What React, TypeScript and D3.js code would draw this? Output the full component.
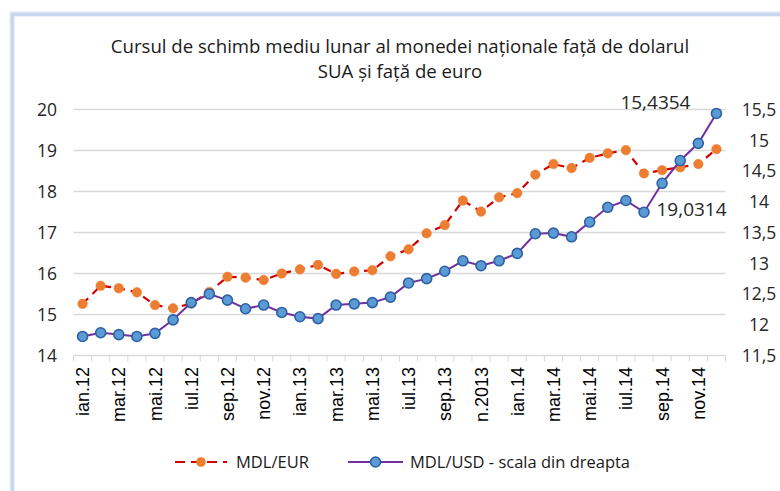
import React from "react";
import * as d3 from "d3";

const months = ["ian.12","feb.12","mar.12","apr.12","mai.12","iun.12","iul.12","aug.12","sep.12","oct.12","nov.12","dec.12","ian.13","feb.13","mar.13","apr.13","mai.13","iun.13","iul.13","aug.13","sep.13","oct.13","n.2013","dec.13","ian.14","feb.14","mar.14","apr.14","mai.14","iun.14","iul.14","aug.14","sep.14","oct.14","nov.14","dec.14"];

const eur = [15.26,15.70,15.64,15.54,15.23,15.15,15.27,15.55,15.92,15.90,15.84,16.00,16.10,16.21,15.99,16.05,16.08,16.42,16.59,16.98,17.18,17.78,17.51,17.86,17.96,18.41,18.67,18.57,18.82,18.93,19.01,18.44,18.52,18.59,18.67,19.0314];
const usd = [11.81,11.87,11.84,11.81,11.86,12.08,12.36,12.50,12.40,12.26,12.32,12.20,12.13,12.10,12.32,12.34,12.36,12.45,12.68,12.75,12.87,13.04,12.96,13.04,13.16,13.48,13.49,13.43,13.67,13.91,14.02,13.83,14.30,14.67,14.95,15.4354];

const leftTicks = [14, 15, 16, 17, 18, 19, 20];
const rightTicks = [11.5, 12, 12.5, 13, 13.5, 14, 14.5, 15, 15.5];

const titleLines = ["Cursul de schimb mediu lunar al monedei naționale față de dolarul", "SUA și față de euro"];
const legendLabels = ["MDL/EUR", "MDL/USD - scala din dreapta"];
const valueLabels = ["15,4354", "19,0314"];

const W = 780, H = 491;
const plotL = 73.5, plotR = 725.5, plotT = 109.5, plotB = 355.5;

const CAL = "'Open Sans', 'Noto Sans', sans-serif";
const ARIAL = "'Liberation Sans', Arial, sans-serif";

export default function App() {
  const x = d3.scaleBand<number>().domain(months.map((_, i) => i)).range([plotL, plotR]).padding(0);
  const bw = x.bandwidth();
  const cx = (i: number) => (x(i) as number) + bw / 2;
  const yL = d3.scaleLinear().domain([14, 20]).range([plotB, plotT]);
  const yR = d3.scaleLinear().domain([11.5, 15.5]).range([plotB, plotT]);

  const lineE = d3.line<number>().x((_, i) => cx(i)).y((d) => yL(d));
  const lineU = d3.line<number>().x((_, i) => cx(i)).y((d) => yR(d));

  const fmt = (v: number) => String(v).replace(".", ",");
  const tickXs = d3.range(months.length + 1).map((k) => plotL + k * bw);

  const last = usd.length - 1;

  return (
    <svg width={W} height={H} style={{ position: "absolute", left: 0, top: 0, background: "#fff" }}>
      <rect x={0} y={0} width={W} height={H} fill="#fff" />
      {/* frame */}
      <rect x={12} y={14} width={W + 20} height={H + 20} fill="none" stroke="#dbe6f3" strokeWidth={5} />
      <rect x={12.5} y={14.5} width={W + 20} height={H + 20} fill="none" stroke="#c3d6ee" strokeWidth={2.5} />

      {/* title */}
      {titleLines.map((t, i) => (
        <text key={i} x={400} y={53 + i * 25} textAnchor="middle" fontFamily={CAL} fontSize={18.6} fill="#1a1a1a">{t}</text>
      ))}

      {/* gridlines */}
      {leftTicks.map((t) => (
        <line key={t} x1={plotL} x2={plotR} y1={yL(t)} y2={yL(t)} stroke="#d9d9d9" strokeWidth={1.3} />
      ))}
      {/* x ticks */}
      {tickXs.map((tx, k) => (
        <line key={k} x1={tx} x2={tx} y1={plotB} y2={plotB + 6} stroke="#d9d9d9" strokeWidth={1} />
      ))}

      {/* left axis labels */}
      {leftTicks.map((t) => (
        <text key={t} x={57} y={yL(t)} dy="0.36em" textAnchor="end" fontFamily={CAL} fontSize={17.5} fill="#262626">{fmt(t)}</text>
      ))}
      {/* right axis labels */}
      {rightTicks.map((t) => (
        <text key={t} x={759} y={yR(t)} dy="0.36em" textAnchor="middle" fontFamily={CAL} fontSize={17.5} fill="#262626">{fmt(t)}</text>
      ))}

      {/* x labels */}
      {months.map((m, i) => i % 2 === 0 ? (
        <text key={m} transform={`translate(${cx(i) + 6.5},367) rotate(-90)`} textAnchor="end" fontFamily={ARIAL} fontSize={18} fill="#000">{m}</text>
      ) : null)}

      {/* EUR series */}
      <path d={lineE(eur) || ""} fill="none" stroke="#d40000" strokeWidth={2.2} strokeDasharray="8,6" />
      {eur.map((v, i) => (
        <circle key={i} cx={cx(i)} cy={yL(v)} r={4.8} fill="#ed7d31" stroke="#ed7d31" strokeWidth={0.5} />
      ))}

      {/* USD series */}
      <path d={lineU(usd) || ""} fill="none" stroke="#7030a0" strokeWidth={2} />
      {usd.map((v, i) => (
        <circle key={i} cx={cx(i)} cy={yR(v)} r={5} fill="#5b9bd5" stroke="#2e61a3" strokeWidth={1.6} />
      ))}

      {/* value labels */}
      <text x={cx(last) - 61} y={yR(usd[last]) - 4} textAnchor="middle" fontFamily={CAL} fontSize={19} fill="#262626">{valueLabels[0]}</text>
      <text x={cx(31) + 12.5} y={yR(usd[31]) + 4} textAnchor="start" fontFamily={CAL} fontSize={19} fill="#262626">{valueLabels[1]}</text>

      {/* legend */}
      <g>
        <line x1={175} x2={227} y1={462} y2={462} stroke="#d40000" strokeWidth={2.2} strokeDasharray="10,6" />
        <circle cx={201} cy={462} r={4.8} fill="#ed7d31" />
        <text x={236} y={462} dy="0.36em" fontFamily={CAL} fontSize={16.5} fill="#1a1a1a">{legendLabels[0]}</text>
        <line x1={348} x2={403} y1={462} y2={462} stroke="#7030a0" strokeWidth={2} />
        <circle cx={375.5} cy={462} r={5} fill="#5b9bd5" stroke="#2e61a3" strokeWidth={1.6} />
        <text x={410} y={462} dy="0.36em" fontFamily={CAL} fontSize={16.5} fill="#1a1a1a">{legendLabels[1]}</text>
      </g>
    </svg>
  );
}
